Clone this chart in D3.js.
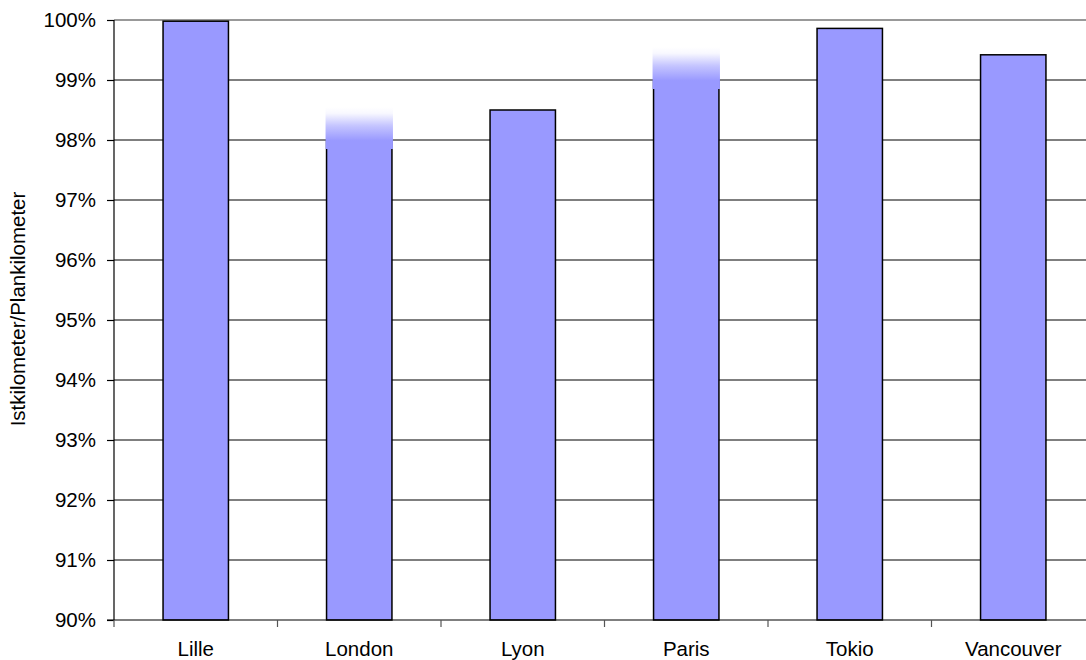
<!DOCTYPE html>
<html>
<head>
<meta charset="utf-8">
<script src="https://cdn.jsdelivr.net/npm/d3@7"></script>
<style>
  html, body { margin: 0; padding: 0; background: #fff; }
  svg { display: block; font-family: "Liberation Sans", Arial, sans-serif; }
</style>
</head>
<body>
<svg id="chart" width="1086" height="660"></svg>
<script>
// Share of planned kilometres actually run, per city
const categories = ["Lille", "London", "Lyon", "Paris", "Tokio", "Vancouver"];
const values = [0.9998, 0.98, 0.985, 0.99, 0.9986, 0.9942];
// Cities whose bar top is shown with a soft fade (upper bound of the fade)
const fadeTop = [null, 0.9855, null, 0.9955, null, null];
const yTicks = [0.90, 0.91, 0.92, 0.93, 0.94, 0.95, 0.96, 0.97, 0.98, 0.99, 1.00];
const yLabel = "Istkilometer/Plankilometer";

const svg = d3.select("#chart");
const plotLeft = 114, plotRight = 1095, plotTop = 20, plotBottom = 620;
const barColor = "#9999ff";
const fontSize = 20.5;

const x = d3.scaleBand().domain(categories).range([plotLeft, plotRight])
  .paddingInner(0.6).paddingOuter(0.3);
const y = d3.scaleLinear().domain([0.90, 1.00]).range([plotBottom, plotTop]);

// Horizontal gridlines
svg.append("g").selectAll("line").data(yTicks.slice(1)).join("line")
  .attr("x1", plotLeft).attr("x2", plotRight)
  .attr("y1", d => y(d)).attr("y2", d => y(d))
  .attr("stroke", d => d === 1.00 ? "#999" : "#000")
  .attr("stroke-width", d => d === 1.00 ? 2 : 1.2);

// Fade gradient for soft bar tops
const defs = svg.append("defs");
const grad = defs.append("linearGradient").attr("id", "fade")
  .attr("x1", 0).attr("y1", 0).attr("x2", 0).attr("y2", 1);
[[0, "#ffffff"], [0.15, "#f8f8ff"], [0.45, "#c4c4ff"], [0.8, barColor], [1, barColor]]
  .forEach(([o, c]) => grad.append("stop").attr("offset", o).attr("stop-color", c));

// Bars
svg.append("g").selectAll("rect").data(categories).join("rect")
  .attr("x", d => x(d))
  .attr("y", (d, i) => y(values[i]))
  .attr("width", x.bandwidth())
  .attr("height", (d, i) => y(0.90) - y(values[i]))
  .attr("fill", barColor)
  .attr("stroke", "#000")
  .attr("stroke-width", 1.5);

// Soft tops
svg.append("g").selectAll("rect")
  .data(categories.map((c, i) => ({ c, v: values[i], t: fadeTop[i] })).filter(d => d.t !== null))
  .join("rect")
  .attr("x", d => x(d.c) - 1)
  .attr("y", d => y(d.t))
  .attr("width", x.bandwidth() + 2)
  .attr("height", d => y(d.v - 0.0015) - y(d.t))
  .attr("fill", "url(#fade)");

// Y axis
const yAxis = d3.axisLeft(y).tickValues(yTicks).tickFormat(d3.format(".0%"))
  .tickSize(7).tickPadding(11);
const gy = svg.append("g").attr("transform", `translate(${plotLeft},0)`).call(yAxis);
gy.select(".domain").attr("d", `M0,${plotTop}V${plotBottom}`).attr("stroke", "#000").attr("stroke-width", 1.2);
gy.selectAll(".tick line").attr("stroke", "#000").attr("stroke-width", 1.2);
gy.selectAll(".tick text").attr("font-size", fontSize).attr("fill", "#000")
  .attr("font-family", "'Liberation Sans', Arial, sans-serif");

// X axis baseline and category boundary ticks
svg.append("line").attr("x1", plotLeft - 7).attr("x2", plotRight)
  .attr("y1", plotBottom).attr("y2", plotBottom).attr("stroke", "#000").attr("stroke-width", 1.2);
const bounds = categories.map(c => x(c) - x.step() * x.paddingOuter());
svg.append("g").selectAll("line").data(bounds).join("line")
  .attr("x1", d => d).attr("x2", d => d)
  .attr("y1", plotBottom).attr("y2", plotBottom + 7)
  .attr("stroke", "#555").attr("stroke-width", 1.2);

// Category labels
svg.append("g").selectAll("text").data(categories).join("text")
  .attr("x", d => x(d) + x.bandwidth() / 2)
  .attr("y", 656)
  .attr("text-anchor", "middle")
  .attr("font-size", fontSize)
  .attr("fill", "#000")
  .text(d => d);

// Y axis title
svg.append("text")
  .attr("transform", `translate(25,309) rotate(-90)`)
  .attr("text-anchor", "middle")
  .attr("font-size", fontSize)
  .attr("fill", "#000")
  .text(yLabel);
</script>
</body>
</html>
